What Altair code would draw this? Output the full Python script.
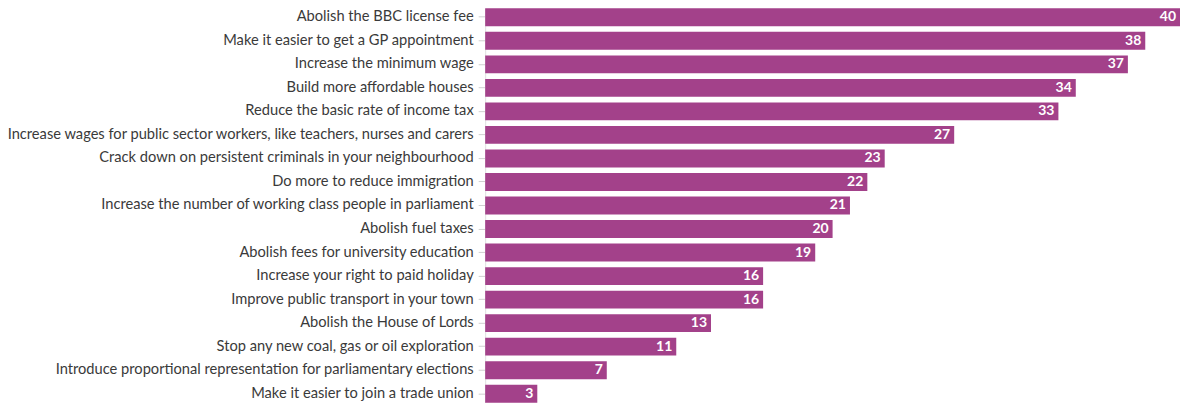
import altair as alt
import pandas as pd

labels = [
    "Abolish the BBC license fee",
    "Make it easier to get a GP appointment",
    "Increase the minimum wage",
    "Build more affordable houses",
    "Reduce the basic rate of income tax",
    "Increase wages for public sector workers, like teachers, nurses and carers",
    "Crack down on persistent criminals in your neighbourhood",
    "Do more to reduce immigration",
    "Increase the number of working class people in parliament",
    "Abolish fuel taxes",
    "Abolish fees for university education",
    "Increase your right to paid holiday",
    "Improve public transport in your town",
    "Abolish the House of Lords",
    "Stop any new coal, gas or oil exploration",
    "Introduce proportional representation for parliamentary elections",
    "Make it easier to join a trade union",
]
values = [40, 38, 37, 34, 33, 27, 23, 22, 21, 20, 19, 16, 16, 13, 11, 7, 3]

df = pd.DataFrame({"label": labels, "value": values})

y = alt.Y("label:N", sort=labels, title=None,
          scale=alt.Scale(paddingInner=0.24, paddingOuter=0),
          axis=alt.Axis(labelFont="Lato", labelFontSize=14.7, labelColor="#3a3a3a",
                        labelPadding=5, tickSize=7, tickColor="#d0d0d0",
                        domainColor="#e0e0e0", labelLimit=600))
x = alt.X("value:Q", title=None, scale=alt.Scale(domain=[0, 40], nice=False),
          axis=None)

bars = alt.Chart(df).mark_bar(color="#a3418a").encode(y=y, x=x)
text = alt.Chart(df).mark_text(align="right", dx=-4, color="white",
                               font="Lato", fontWeight="bold", fontSize=14).encode(
    y=alt.Y("label:N", sort=labels), x="value:Q", text="value:Q")

chart = (bars + text).properties(
    width=696, height=395,
    autosize=alt.AutoSizeParams(type="none"),
    padding={"top": 0, "left": 478, "right": 0, "bottom": 0},
).configure_view(stroke=None)

chart.save("out.html", embed_options={"renderer": "svg", "actions": False})
